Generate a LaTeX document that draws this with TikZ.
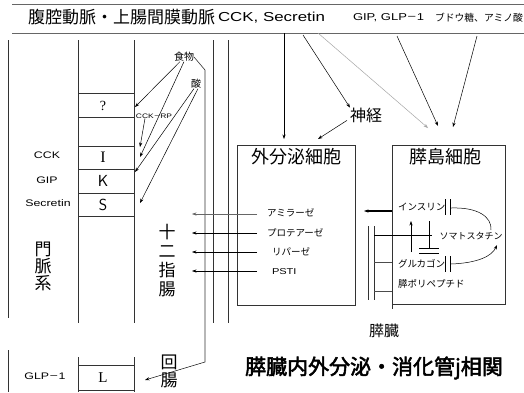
\documentclass[tikz,border=0pt]{standalone}
\usepackage{fontspec}
\setmainfont{Liberation Sans}
\newfontfamily\jp{Noto Sans CJK JP}
\newfontfamily\jpb{Noto Sans CJK JP}[FakeBold=2.5]
\newfontfamily\lat{Liberation Sans}[FakeStretch=1.3]
\newfontfamily\ser{Liberation Serif}
\usetikzlibrary{arrows.meta}
\newcommand\fsz[1]{\fontsize{#1}{#1}\selectfont}
\tikzset{
  ln/.style={draw=black!80, line width=0.7pt},
  gln/.style={draw=black!60, line width=0.9pt},
  arr/.style={-{Stealth[length=4.5pt,width=3.2pt]}, line width=0.5pt, draw=black},
  garr/.style={arr, draw=black!35},
  lbl/.style={inner sep=0pt, outer sep=0pt},
}
\begin{document}
\begin{tikzpicture}[x=1pt,y=-1pt]
\useasboundingbox (0,0) rectangle (524,392);
\fill[white] (0,0) rectangle (524,392);

% top header
\draw[gln] (12,4) -- (524,4);
\draw[gln] (12,33) -- (524,33);
\node[lbl, anchor=west, font=\jp\fsz{17}] (t1) at (28,17) {腹腔動脈・上腸間膜動脈};
\node[lbl, anchor=west, font=\lat\fsz{13}] (t2) at (218,18) {CCK, Secretin};
\node[lbl, anchor=west, font=\lat\fsz{10}] (t3) at (353,18) {GIP, GLP{\jp －}1};
\node[lbl, anchor=east, font=\jp\fsz{9.8}] (t4) at (523,18) {ブドウ糖、アミノ酸};

% portal system line
\draw[ln] (8,40) -- (8,318);
\draw[ln] (8,350) -- (8,392);
% mucosa column
\draw[ln] (78,40) -- (78,323);
\draw[ln] (134,40) -- (134,323);
\draw[ln] (78,357) -- (78,392);
\draw[ln] (134,357) -- (134,392);
\foreach \yy in {93,117,146,169,193,216,365,390}
  \draw[ln] (78,\yy) -- (134,\yy);
% duodenum walls
\draw[ln] (213,40) -- (213,323);
\draw[ln] (228,40) -- (228,323);

% column letters
\node[lbl, font=\ser\fsz{14}] (cq) at (103,106) {?};
\node[lbl, font=\ser\fsz{16}] (cI) at (103,157.5) {I};
\node[lbl, font=\sffamily\fsz{16}] (cK) at (103,181) {K};
\node[lbl, font=\sffamily\fsz{16}] (cS) at (103,204.5) {S};
\node[lbl, font=\ser\fsz{15}] (cL) at (103,378) {L};

% left hormone labels
\node[lbl, font=\lat\fsz{9.5}] (hCCK) at (47,155) {CCK};
\node[lbl, font=\lat\fsz{9.5}] (hGIP) at (47,180) {GIP};
\node[lbl, font=\lat\fsz{9.5}] (hSec) at (48,203) {Secretin};
\node[lbl, font=\lat\fsz{9.5}] (hGLP) at (45,376) {GLP{\jp －}1};

% vertical labels
\node[lbl, font=\jp\fsz{17}, align=center] (portal) at (43,266) {門\\脈\\系};
\node[lbl, font=\jp\fontsize{17}{19}\selectfont, align=center] (duo) at (167,261) {十\\二\\指\\腸};
\node[lbl, font=\jp\fontsize{17}{18}\selectfont, align=center] (ileum) at (169,371) {回\\腸};

% food and acid
\node[lbl, font=\jp\fsz{10}] (food) at (184,57) {食物};
\node[lbl, font=\jp\fsz{10}] (acid) at (196,84) {酸};
\node[lbl, font=\lat\fsz{6.5}] (ccrp) at (154,116) {CCK{\jp －}RP};

\coordinate (aq) at (135,107);
\coordinate (aI) at (140,157);
\coordinate (aI2) at (140,147);
\coordinate (aK) at (135,172);
\coordinate (aS) at (140,203);
\coordinate (aL) at (145,380);
\draw[arr] ([xshift=-4pt]food.south) -- (aq);
\draw[arr] (food.south) -- (aI);
\draw[arr] ([xshift=-2pt]acid.south) -- (aK);
\draw[arr] ([xshift=2pt]acid.south) -- (aS);
\draw[arr] ([xshift=-9pt]ccrp.south) -- (aI2);
% chyme path
\coordinate (p1) at (205,70);
\coordinate (p2) at (205,362);
\draw[ln, line width=0.6pt] (food.east) -- (p1) -- (p2);
\draw[arr] (p2) -- (aL);

% exocrine box
\draw[ln] (237,145) rectangle (355,305);
\node[lbl, font=\jp\fsz{18}] (exo) at (296,157) {外分泌細胞};
\node[lbl, anchor=west, font=\jp\fsz{9.5}] (amy) at (267,213) {アミラーゼ};
\node[lbl, anchor=west, font=\jp\fsz{9.5}] (pro) at (267,233) {プロテアーゼ};
\node[lbl, anchor=west, font=\jp\fsz{9.5}] (lip) at (272,252) {リパーゼ};
\node[lbl, anchor=west, font=\lat\fsz{8.5}] (psti) at (272,272) {PSTI};
\coordinate (e1) at (192,214);
\coordinate (e2) at (192,233);
\coordinate (e3) at (192,252);
\coordinate (e4) at (192,271);
\draw[arr, draw=black!60] ([xshift=-10pt]amy.west |- e1) -- (e1);
\draw[arr] ([xshift=-10pt]pro.west |- e2) -- (e2);
\draw[arr] ([xshift=-15pt]lip.west |- e3) -- (e3);
\draw[arr] ([xshift=-15pt]psti.west |- e4) -- (e4);

% islet box
\draw[ln] (392,145) rectangle (505,304);
\draw[ln] (392,304) -- (392,309);
\node[lbl, font=\jp\fsz{18}] (isl) at (445,157) {膵島細胞};
\node[lbl, anchor=west, font=\jp\fsz{9.5}] (ins) at (398,207) {インスリン};
\node[lbl, anchor=west, font=\jp\fsz{9.5}] (glu) at (398,264) {グルカゴン};
\node[lbl, anchor=west, font=\jp\fsz{9.5}] (ppy) at (398,284) {膵ポリペプチド};
\node[lbl, font=\jp\fsz{9}] (som) at (471,236) {ソマトスタチン};
% receptor bars
\draw[line width=0.6pt] (445,199) -- (445,215) (450,199) -- (450,215);
\draw[line width=0.6pt] (445,256) -- (445,272) (450,256) -- (450,272);
\coordinate (ic) at (451,208);
\coordinate (gc) at (451,264);
\coordinate (sTop) at (491,230);
\coordinate (sR) at (497,245);
\draw[line width=0.5pt] (ic) .. controls (478,207) and (492,217) .. (sTop);
\draw[arr] (gc) .. controls (478,263) and (492,256) .. (sR);
% stimulate / inhibit
\coordinate (up1) at (411,252);
\coordinate (up2) at (411,221);
\draw[arr] (up1) -- (up2);
\coordinate (inh1) at (429,221);
\coordinate (inh2) at (429,248);
\draw[line width=0.5pt] (inh1) -- (inh2);
\draw[line width=0.6pt] (419,248) -- (439,248) (419,253) -- (439,253);
% pancreatic duct
\draw[ln, line width=0.6pt] (368,226) -- (368,300) (374,226) -- (374,300);
\draw[line width=0.6pt] (374,235) -- (432,235);
\draw[line width=0.6pt, black!70] (374,262) -- (392,262);
\draw[line width=0.6pt, black!70] (374,291) -- (392,291);
% islet -> out
\coordinate (io1) at (392,211);
\coordinate (io2) at (364,211);
\draw[arr, line width=1.1pt] (io1) -- (io2);

\node[lbl, font=\jp\fsz{15}] (panc) at (384,331) {膵臓};
\node[lbl, font=\jpb\fsz{21}] (ttl) at (374,368) {膵臓内外分泌・消化管j相関};

% nerve
\node[lbl, font=\jp\fsz{16}] (nerve) at (366,115) {神経};

% arrows from top
\coordinate (s1) at (284,33);
\coordinate (s1e) at (284,139);
\coordinate (s2) at (303,35);
\coordinate (s3) at (318,33);
\coordinate (s4) at (397,36);
\coordinate (s5) at (477,36);
\coordinate (i1) at (428,128);
\coordinate (i2) at (438,126);
\coordinate (i3) at (453,127);
\coordinate (n1) at (318,139);
\draw[arr] (s1) -- (s1e);
\draw[arr] (s2) -- (nerve.north west);
\draw[garr] (s3) -- (i1);
\draw[arr] (s4) -- (i2);
\draw[arr] (s5) -- (i3);
\draw[arr] ([xshift=-3pt,yshift=2pt]nerve.south west) -- (n1);
\end{tikzpicture}
\end{document}
